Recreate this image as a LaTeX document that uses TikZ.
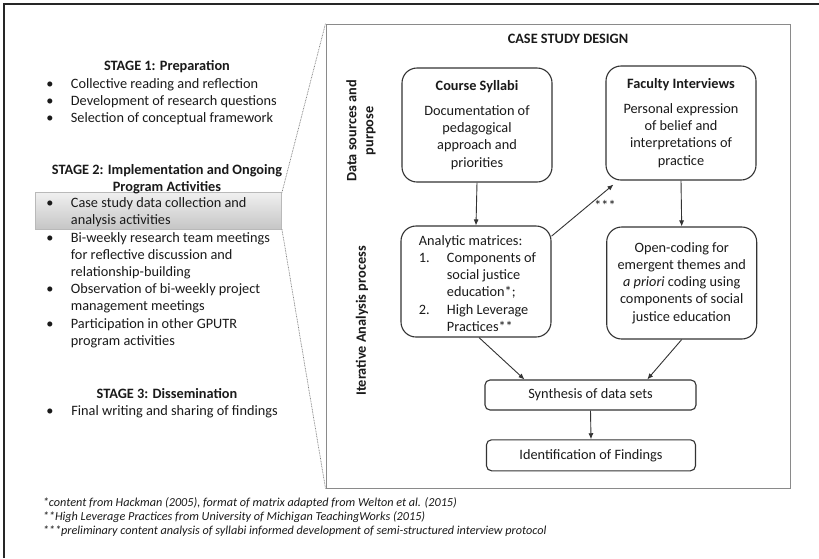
\documentclass[tikz,border=0pt]{standalone}
\usepackage{fontspec}
\setmainfont{Carlito}
\usetikzlibrary{arrows.meta,shadings}
\definecolor{ink}{HTML}{1A1A1A}
\definecolor{boxc}{HTML}{333333}
\definecolor{framec}{HTML}{8A8A8A}
\begin{document}
\begin{tikzpicture}[x=1pt,y=-1pt,
  every node/.style={text=ink},
  mainf/.style={font=\fontsize{14.3}{17.2}\selectfont},
  rbox/.style={mainf, draw=boxc, line width=1.1pt, rounded corners=15pt, minimum width=150pt, inner sep=0pt, align=center},
  sbox/.style={mainf, draw=boxc, line width=1.1pt, rounded corners=5pt, inner sep=0pt, align=center},
  arr/.style={-{Latex[length=6pt,width=5pt]}, line width=0.9pt, draw=boxc},
  ln/.style={mainf, inner sep=0pt, text height=11.5pt, text depth=2.1pt, anchor=west},
  bul/.style={ln, anchor=center},
  head/.style={ln, anchor=center, font=\fontsize{14.3}{17.2}\selectfont\bfseries},
  fn/.style={inner sep=0pt, anchor=west, text height=9.8pt, text depth=1.8pt, font=\fontsize{12.2}{14}\selectfont\itshape},
  dots/.style={draw=gray, dash pattern=on 0.8pt off 0.8pt, line width=0.7pt},
  hlbox/.style={draw=gray!55, line width=0.5pt, top color=gray!12, bottom color=gray!45, inner sep=0pt},
  framebox/.style={draw=framec, line width=1pt, inner sep=0pt}
]
\useasboundingbox (0,0) rectangle (819,558);
\fill[white] (0,0) rectangle (819,558);
\draw[line width=1.6pt, draw=black!85] (4,558) -- (4,4) -- (819,4);

% highlighted item background
\node[hlbox, minimum width=246pt, minimum height=36.3pt] (hl) at (158.7,210.85) {};

% case study frame
\node[framebox, minimum width=464pt, minimum height=464pt] (fr) at (558,256) {};
\draw[dots] (hl.north east) -- (fr.north west);
\draw[dots] (hl.south east) -- (fr.south west);

% left column
\node[head] (s1) at (167,66) {STAGE 1: Preparation};
\node[bul] (b11) at (50,83.3) {•};   \node[ln] (t11) at (70.7,83.3) {Collective reading and reflection};
\node[bul] (b12) at (50,100.5) {•};  \node[ln] (t12) at (70.7,100.5) {Development of research questions};
\node[bul] (b13) at (50,117.7) {•};  \node[ln] (t13) at (70.7,117.7) {Selection of conceptual framework};

\node[head] (s2a) at (167,169.3) {STAGE 2: Implementation and Ongoing};
\node[head] (s2b) at (167,186.5) {Program Activities};
\node[bul] (b21) at (50,203) {•};    \node[ln] (t21a) at (70.7,203) {Case study data collection and};
                                     \node[ln] (t21b) at (70.7,220.2) {analysis activities};
\node[bul] (b22) at (50,237.4) {•};  \node[ln] (t22a) at (70.7,237.4) {Bi-weekly research team meetings};
                                     \node[ln] (t22b) at (70.7,254.6) {for reflective discussion and};
                                     \node[ln] (t22c) at (70.7,271.8) {relationship-building};
\node[bul] (b23) at (50,289) {•};    \node[ln] (t23a) at (70.7,289) {Observation of bi-weekly project};
                                     \node[ln] (t23b) at (70.7,306.2) {management meetings};
\node[bul] (b24) at (50,323.4) {•};  \node[ln] (t24a) at (70.7,323.4) {Participation in other GPUTR};
                                     \node[ln] (t24b) at (70.7,340.6) {program activities};

\node[head] (s3) at (167,393.5) {STAGE 3: Dissemination};
\node[bul] (b31) at (50,410.7) {•};  \node[ln] (t31) at (71.2,410.7) {Final writing and sharing of findings};

% right panel
\node[head] (title) at (568,38.3) {CASE STUDY DESIGN};
\node[mainf, font=\fontsize{14.3}{17.2}\selectfont\bfseries, rotate=90, align=center, inner sep=0pt] (lab1) at (361,131) {Data sources and\\purpose};
\node[mainf, font=\fontsize{14.3}{17.2}\selectfont\bfseries, rotate=90, inner sep=0pt] (lab2) at (362,321) {Iterative Analysis process};

\node[rbox, minimum height=114pt] (cs) at (477,125) {\textbf{Course Syllabi}\\[7.8pt]Documentation of\\pedagogical\\approach and\\priorities};
\node[rbox, minimum height=114pt] (fi) at (681,123) {\textbf{Faculty Interviews}\\[7.8pt]Personal expression\\of belief and\\interpretations of\\practice};
\node[rbox, minimum height=111pt] (am) at (476,281.5) {};
\node[mainf, align=left, inner sep=0pt, anchor=west] (amt) at (418.7,283.4)
  {Analytic matrices:\\\makebox[28pt][l]{1.}Components of\\\hspace*{28pt}social justice\\\hspace*{28pt}education*;\\\makebox[28pt][l]{2.}High Leverage\\\hspace*{28pt}Practices**};
\node[rbox, minimum height=112pt] (oc) at (681.7,283) {Open-coding for\\emergent themes and\\\textit{a priori} coding using\\components of social\\justice education};
\node[sbox, minimum width=211pt, minimum height=30pt] (syn) at (590.5,395) {Synthesis of data sets};
\node[sbox, minimum width=209pt, minimum height=31pt] (idf) at (591,455.3) {Identification of Findings};

\draw[arr] (cs.south) -- (am.north);
\draw[arr] (fi.south) -- (oc.north);
\draw[arr] ([yshift=-10.7pt]am.north east) -- ([xshift=8pt,yshift=-4pt]fi.south west);
\node[mainf, inner sep=0pt] (star) at (605,205) {***};
\draw[arr] ([xshift=3pt]am.south) -- ([xshift=40pt]syn.north west);
\draw[arr] (oc.south) -- ([xshift=-49.3pt]syn.north east);
\draw[arr] (syn.south) -- (idf.north);

% footnotes
\node[fn] (f1) at (42.7,502) {*content from Hackman (2005), format of matrix adapted from Welton et al. (2015)};
\node[fn] (f2) at (42.7,516) {**High Leverage Practices from University of Michigan TeachingWorks (2015)};
\node[fn] (f3) at (42.7,530) {***preliminary content analysis of syllabi informed development of semi-structured interview protocol};
\end{tikzpicture}
\end{document}
